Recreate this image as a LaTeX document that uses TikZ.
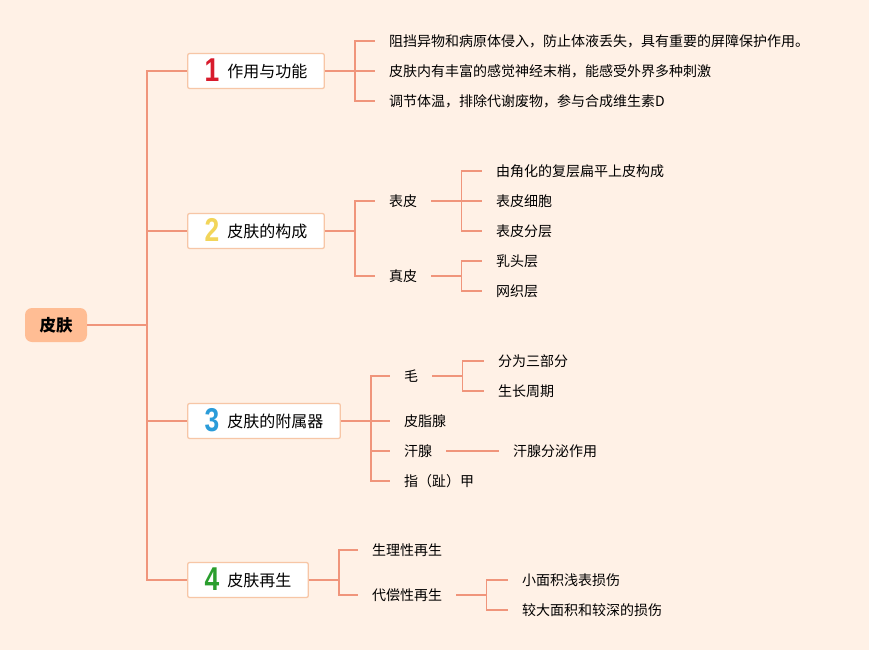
\documentclass[tikz,border=0pt]{standalone}
\usepackage{fontspec}
\setmainfont{Noto Sans CJK SC}
\newfontfamily\numfont{Liberation Sans}
\usetikzlibrary{positioning,calc}

\definecolor{bgpeach}{HTML}{FFF1E6}
\definecolor{rootfill}{HTML}{FFBD94}
\definecolor{linkcol}{HTML}{F0957B}
\definecolor{boxline}{HTML}{F7C6A6}
\definecolor{numred}{HTML}{D81B2C}
\definecolor{numyellow}{HTML}{F2D55A}
\definecolor{numblue}{HTML}{2B9CD9}
\definecolor{numgreen}{HTML}{2A9E2E}

\newcommand{\bignum}[2]{\raisebox{-4.5pt}[0pt][0pt]{\numfont\bfseries\fontsize{33}{33}\selectfont\color{#1}\scalebox{0.8}[1]{#2}}\hspace{8pt}}

\begin{document}
\begin{tikzpicture}[
    x=1pt, y=-1pt,
    root/.style={rectangle, rounded corners=7pt, fill=rootfill, minimum width=62pt, minimum height=34pt,
        font=\fontsize{16.5}{16.5}\selectfont\bfseries},
    branch/.style={rectangle, rounded corners=2pt, draw=boxline, line width=1.3pt, fill=white,
        minimum height=35pt, inner xsep=17pt, anchor=west, font=\fontsize{16}{16}\selectfont},
    leaf/.style={anchor=west, inner xsep=14pt, inner ysep=2pt, font=\fontsize{14}{14}\selectfont},
    link/.style={draw=linkcol, line width=1.5pt}
]
\useasboundingbox[fill=bgpeach] (0,0) rectangle (869,650);

% root and trunk
\node[root] (skin) at (56,325) {皮肤};
\coordinate (trunk) at (147,325);

% four main branches
\node[branch] (func) at (187,71) {\bignum{numred}{1}作用与功能};
\node[branch] (struct) at (187,231) {\bignum{numyellow}{2}皮肤的构成};
\node[branch] (append) at (187,421) {\bignum{numblue}{3}皮肤的附属器};
\node[branch] (regen) at (187,580) {\bignum{numgreen}{4}皮肤再生};

\draw[link] (skin.east) -- (trunk);
\foreach \b in {func,struct,append,regen}
    \draw[link] (trunk) |- (\b.west);

% 1 作用与功能
\node[leaf] (f1) at (375,41) {阻挡异物和病原体侵入，防止体液丢失，具有重要的屏障保护作用。};
\node[leaf] (f2) at (375,71) {皮肤内有丰富的感觉神经末梢，能感受外界多种刺激};
\node[leaf] (f3) at (375,101) {调节体温，排除代谢废物，参与合成维生素D};
\draw[link] (func.east) -- ++(30,0) coordinate (funcj);
\foreach \l in {f1,f2,f3}
    \draw[link] (funcj) |- (\l.west);

% 2 皮肤的构成
\node[leaf] (epi) at (375,201) {表皮};
\node[leaf] (der) at (375,276) {真皮};
\draw[link] (struct.east) -- ++(30,0) coordinate (structj);
\foreach \l in {epi,der}
    \draw[link] (structj) |- (\l.west);

\node[leaf] (epi1) at (482,171) {由角化的复层扁平上皮构成};
\node[leaf] (epi2) at (482,201) {表皮细胞};
\node[leaf] (epi3) at (482,231) {表皮分层};
\draw[link] (epi.east) -- ++(30,0) coordinate (epij);
\foreach \l in {epi1,epi2,epi3}
    \draw[link] (epij) |- (\l.west);

\node[leaf] (der1) at (482,261) {乳头层};
\node[leaf] (der2) at (482,291) {网织层};
\draw[link] (der.east) -- ++(30,0) coordinate (derj);
\foreach \l in {der1,der2}
    \draw[link] (derj) |- (\l.west);

% 3 皮肤的附属器
\node[leaf] (hair) at (390,376) {毛};
\node[leaf] (sebum) at (390,421) {皮脂腺};
\node[leaf] (sweat) at (390,451) {汗腺};
\node[leaf] (nail) at (390,481) {指（趾）甲};
\draw[link] (append.east) -- ++(30,0) coordinate (appendj);
\foreach \l in {hair,sebum,sweat,nail}
    \draw[link] (appendj) |- (\l.west);

\node[leaf] (hair1) at (484,361) {分为三部分};
\node[leaf] (hair2) at (484,391) {生长周期};
\draw[link] (hair.east) -- ++(30,0) coordinate (hairj);
\foreach \l in {hair1,hair2}
    \draw[link] (hairj) |- (\l.west);

\node[leaf] (sweat1) at (499,451) {汗腺分泌作用};
\draw[link] (sweat.east) -- (sweat1.west);

% 4 皮肤再生
\node[leaf] (phys) at (358,550) {生理性再生};
\node[leaf] (comp) at (358,595) {代偿性再生};
\draw[link] (regen.east) -- ++(30,0) coordinate (regenj);
\foreach \l in {phys,comp}
    \draw[link] (regenj) |- (\l.west);

\node[leaf] (comp1) at (508,580) {小面积浅表损伤};
\node[leaf] (comp2) at (508,610) {较大面积和较深的损伤};
\draw[link] (comp.east) -- ++(30,0) coordinate (compj);
\foreach \l in {comp1,comp2}
    \draw[link] (compj) |- (\l.west);
\end{tikzpicture}
\end{document}
